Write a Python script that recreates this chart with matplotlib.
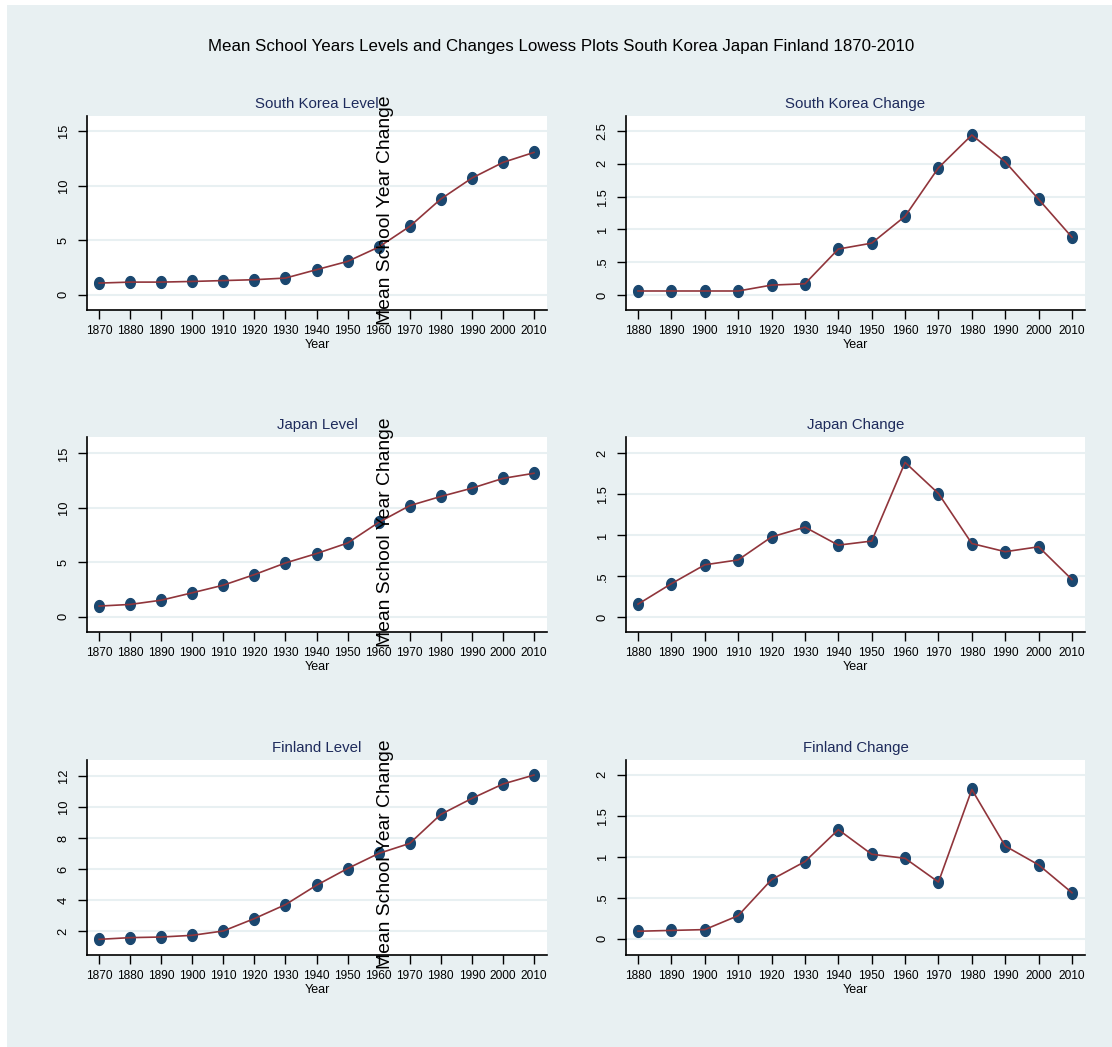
import numpy as np
import matplotlib
matplotlib.use("Agg")
import matplotlib.pyplot as plt
from matplotlib.path import Path
from matplotlib import font_manager

# Series: mean school years (levels) and decade changes
years_level = [1870, 1880, 1890, 1900, 1910, 1920, 1930, 1940, 1950, 1960, 1970, 1980, 1990, 2000, 2010]
years_change = [1880, 1890, 1900, 1910, 1920, 1930, 1940, 1950, 1960, 1970, 1980, 1990, 2000, 2010]

korea_level = [1.07, 1.16, 1.16, 1.22, 1.30, 1.38, 1.53, 2.30, 3.06, 4.37, 6.27, 8.78, 10.70, 12.14, 13.06]
korea_change = [0.06, 0.06, 0.06, 0.06, 0.15, 0.17, 0.70, 0.79, 1.20, 1.94, 2.44, 2.03, 1.46, 0.88]

japan_level = [0.98, 1.13, 1.52, 2.20, 2.90, 3.87, 4.94, 5.80, 6.77, 8.66, 10.20, 11.04, 11.80, 12.70, 13.17]
japan_change = [0.16, 0.41, 0.64, 0.70, 0.98, 1.10, 0.88, 0.93, 1.89, 1.51, 0.90, 0.80, 0.86, 0.46]

finland_level = [1.46, 1.57, 1.61, 1.72, 2.00, 2.80, 3.70, 4.95, 6.03, 7.00, 7.65, 9.52, 10.55, 11.48, 12.06]
finland_change = [0.09, 0.10, 0.11, 0.28, 0.72, 0.94, 1.33, 1.03, 0.98, 0.69, 1.82, 1.13, 0.90, 0.56]

level_ticks = [[0, 5, 10, 15], [0, 5, 10, 15], [2, 4, 6, 8, 10, 12]]
change_ticks = [[0, 0.5, 1, 1.5, 2, 2.5], [0, 0.5, 1, 1.5, 2], [0, 0.5, 1, 1.5, 2]]
level_lims = [(-1.4, 16.4), (-1.4, 16.5), (0.45, 13.03)]
change_lims = [(-0.23, 2.73), (-0.18, 2.2), (-0.2, 2.18)]

countries = ["South Korea", "Japan", "Finland"]
levels = [korea_level, japan_level, finland_level]
changes = [korea_change, japan_change, finland_change]

BG = "#e8f0f2"
NAVY = "#1a476f"
MAROON = "#90353b"
TITLE_C = "#1e2b5c"

names = {f.name for f in font_manager.fontManager.ttflist}
narrow = "Liberation Sans Narrow" if "Liberation Sans Narrow" in names else "Liberation Sans"
plt.rcParams["font.family"] = [narrow, "DejaVu Sans"]

# slightly tall ellipse marker
t = np.linspace(0, 2 * np.pi, 60)
ellipse = Path(np.column_stack([0.82 * np.cos(t), np.sin(t)]), closed=True)

W, H = 1112, 1047
fig = plt.figure(figsize=(W / 100, H / 100), dpi=100)
fig.patch.set_facecolor("white")
fig.patches.append(plt.Rectangle((7 / W, 0), 1 - 7 / W, 1 - 5 / H, transform=fig.transFigure,
                                 facecolor=BG, edgecolor="none", zorder=-10))

fig.text(561 / W, 1 - 47 / H,
         "Mean School Years Levels and Changes Lowess Plots South Korea Japan Finland 1870-2010",
         ha="center", va="center", fontsize=12.2, color="black")


def fmt(v):
    s = ("%g" % v)
    return s[1:] if s.startswith("0.") else s


def panel(rect, x, y, ticks, lims, xlims, title):
    ax = fig.add_axes([rect[0] / W, 1 - rect[3] / H, (rect[1] - rect[0]) / W, (rect[3] - rect[2]) / H])
    ax.set_facecolor("white")
    ax.plot(x, y, color=MAROON, lw=1.2, zorder=3)
    ax.plot(x, y, ls="none", marker=ellipse, ms=8.5, color=NAVY, zorder=2)
    ax.set_xlim(*xlims)
    ax.set_ylim(*lims)
    ax.set_xticks(x)
    ax.set_xticklabels([str(v) for v in x], fontsize=8.6)
    ax.set_yticks(ticks)
    ax.set_yticklabels([fmt(v) for v in ticks], fontsize=9.3, rotation=90, va="center")
    ax.grid(axis="y", color=BG, lw=1.5)
    ax.set_axisbelow(True)
    for s in ["top", "right"]:
        ax.spines[s].set_visible(False)
    for s in ["left", "bottom"]:
        ax.spines[s].set_linewidth(1.2)
    ax.tick_params(length=6.5, width=1.0, pad=4)
    ax.tick_params(axis="y", pad=6)
    ax.set_xlabel("Year", fontsize=9, labelpad=1.5)
    ax.set_title(title, fontsize=10.8, color=TITLE_C, pad=6)
    return ax


tops = [(116, 310), (437, 632), (760, 955)]
for i, c in enumerate(countries):
    top, bot = tops[i]
    panel((87, 547, top, bot), years_level, levels[i], level_ticks[i], level_lims[i],
          (1866.1, 2014.2), c + " Level")
    panel((626, 1085, top, bot), years_change, changes[i], change_ticks[i], change_lims[i],
          (1876.4, 2013.9), c + " Change")

# y-axis title of the change panels, drawn between the columns
for yc in [210, 532, 854]:
    fig.text(386 / W, 1 - yc / H, "Mean School Year Change", rotation=90,
             ha="center", va="center", fontsize=13.9, family=["Liberation Sans", "DejaVu Sans"],
             color="black", zorder=10)

fig.savefig("out.png", dpi=100, facecolor=fig.get_facecolor())
